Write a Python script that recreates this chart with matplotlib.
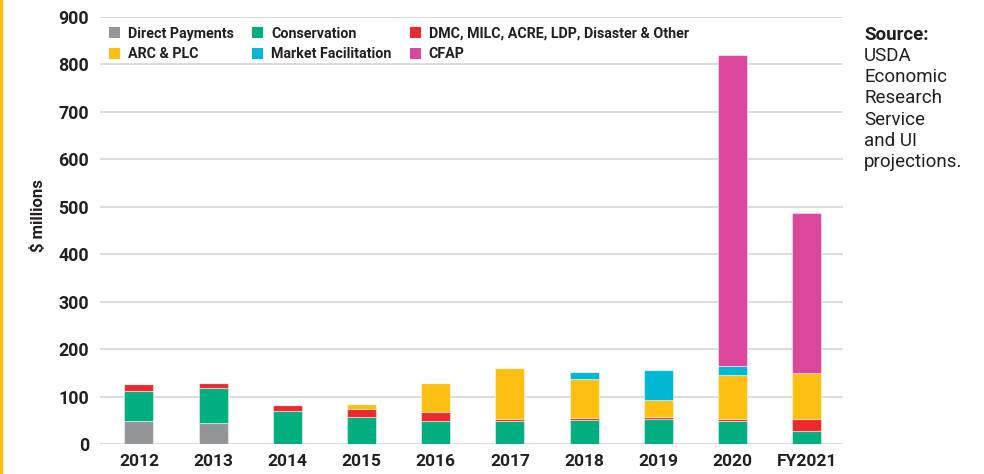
import matplotlib
matplotlib.use("Agg")
import matplotlib.pyplot as plt
from matplotlib.patches import Patch
import numpy as np

years = ["2012", "2013", "2014", "2015", "2016", "2017", "2018", "2019", "2020", "FY2021"]
direct_payments = [49, 45, 0, 0, 0, 0, 0, 0, 0, 0]
conservation = [62, 74, 70, 56, 49, 48, 50, 52, 49, 28]
dmc_other = [15, 9, 12, 18, 19, 5, 4, 5, 3, 25]
arc_plc = [0, 0, 0, 11, 60, 108, 82, 35, 94, 96]
market_facilitation = [0, 0, 0, 0, 0, 0, 16, 65, 19, 0]
cfap = [0, 0, 0, 0, 0, 0, 0, 0, 655, 338]

series = [
    ("Direct Payments", direct_payments, "#939598"),
    ("Conservation", conservation, "#00ae80"),
    ("DMC, MILC, ACRE, LDP, Disaster & Other", dmc_other, "#ec2a2e"),
    ("ARC & PLC", arc_plc, "#fcbf12"),
    ("Market Facilitation", market_facilitation, "#00b8d4"),
    ("CFAP", cfap, "#da479b"),
]
yticks = [0, 100, 200, 300, 400, 500, 600, 700, 800, 900]

plt.rcParams['font.family'] = ['Roboto', 'DejaVu Sans']

fig = plt.figure(figsize=(9.84, 4.74), dpi=100)
ax = fig.add_axes([100/984, 30/474, 743/984, 427/474])

x = np.arange(len(years))
bottom = np.zeros(len(years))
for name, vals, col in series:
    v = np.array(vals, dtype=float)
    ax.bar(x, v, bottom=bottom, width=0.39, color=col, edgecolor=(1, 1, 1, 0.45),
           linewidth=0.8, zorder=3)
    bottom += v

ax.set_ylim(0, 900)
ax.set_xlim(-0.525, 9.49)
ax.set_yticks(yticks)
ax.set_yticklabels([str(t) for t in yticks], fontsize=12.8, fontweight='bold', color='#231f20')
ax.set_xticks(x)
ax.set_xticklabels(years, fontsize=12.5, fontweight='bold', color='#231f20')
ax.tick_params(axis='both', length=0)
ax.tick_params(axis='y', pad=8)
ax.tick_params(axis='x', pad=7)
for s in ax.spines.values():
    s.set_visible(False)
ax.grid(axis='y', color='#dcdcdc', linewidth=1.4, zorder=0)
ax.set_axisbelow(True)
ax.set_ylabel("$ millions", fontsize=12, fontweight='bold', color='#231f20')
ax.yaxis.set_label_coords(-54/743, 0.534)

# legend (row-wise order)
order = [0, 3, 1, 4, 2, 5]
handles = [Patch(facecolor=series[i][2], edgecolor='none', label=series[i][0]) for i in order]
leg = ax.legend(handles=handles, ncol=3, loc='upper left', bbox_to_anchor=(3/743, 1 - 4/427),
                frameon=False, handlelength=0.77, handleheight=0.77, handletextpad=0.55,
                columnspacing=1.3, labelspacing=0.45, borderaxespad=0.0,
                prop={'family': 'Roboto', 'weight': 'bold', 'size': 10.3})
for t in leg.get_texts():
    t.set_color('#231f20')

fig.text(864/984, 1 - 35/474, "Source:", fontsize=13.5, fontweight='bold', color='#231f20',
         va='center', ha='left')
fig.text(864/984, 1 - 47/474, "USDA\nEconomic\nResearch\nService\nand UI\nprojections.",
         fontsize=13.5, color='#231f20', va='top', ha='left', linespacing=1.23)

# yellow left border
fig.add_artist(plt.Line2D([0.001, 0.001], [0, 1], color='#fcbf12', linewidth=2.5,
                          transform=fig.transFigure))

fig.savefig("out.png", dpi=100)
